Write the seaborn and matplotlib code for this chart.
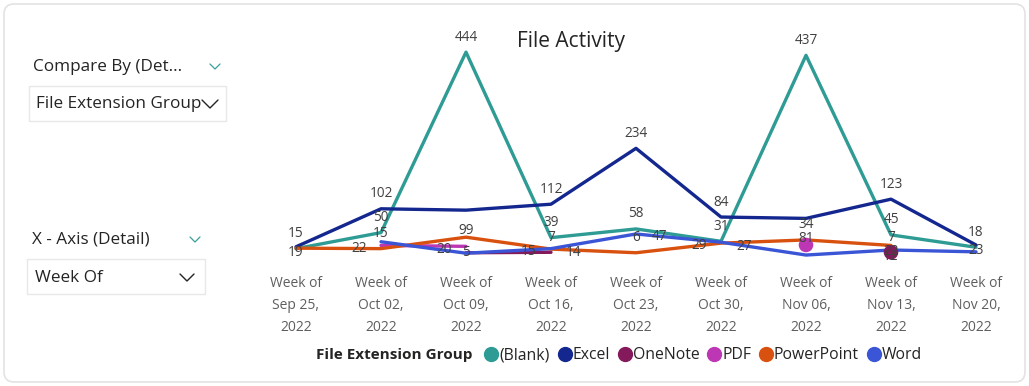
import matplotlib
matplotlib.use('Agg')

import matplotlib.pyplot as plt
import numpy as np
import pandas as pd
import seaborn as sns
from matplotlib.patches import FancyBboxPatch, Rectangle

sns.set_style("white")
plt.rcParams['font.family'] = ['Open Sans', 'DejaVu Sans']

# data

weeks = ["Week of\nSep 25,\n2022", "Week of\nOct 02,\n2022", "Week of\nOct 09,\n2022",
         "Week of\nOct 16,\n2022", "Week of\nOct 23,\n2022", "Week of\nOct 30,\n2022",
         "Week of\nNov 06,\n2022", "Week of\nNov 13,\n2022", "Week of\nNov 20,\n2022"]

groups = ["(Blank)", "Excel", "OneNote", "PDF", "PowerPoint", "Word"]

blank = [15, 50, 444, 39, 58, 31, 437, 45, 18]
excel = [19, 102, 99, 112, 234, 84, 81, 123, 23]
onenote = [np.nan, np.nan, 6, 7, np.nan, np.nan, np.nan, 7, np.nan]
pdf = [np.nan, 22, 20, np.nan, np.nan, np.nan, 23, np.nan, np.nan]
powerpoint = [16, 15, 40, 14, 6, 27, 34, 22, np.nan]
word = [np.nan, 30, 5, 15, 47, 29, 1, 12, 8]

series = dict(zip(groups, [blank, excel, onenote, pdf, powerpoint, word]))

colors = ["#2E9C94", "#13278F", "#841A5C", "#BD37B5", "#D9510F", "#3A55D6"]
palette = dict(zip(groups, colors))

# which points carry a data label, and where the label sits
labels = [
    ("(Blank)", 0, "above"), ("Excel", 0, "under"),
    ("Excel", 1, "above"), ("(Blank)", 1, "above"), ("PowerPoint", 1, "above"), ("PDF", 1, "left"),
    ("(Blank)", 2, "above"), ("Excel", 2, "below"), ("PDF", 2, "left"), ("Word", 2, "on"),
    ("Excel", 3, "above"), ("(Blank)", 3, "above"), ("OneNote", 3, "above"),
    ("Word", 3, "left"), ("PowerPoint", 3, "right"),
    ("Excel", 4, "above"), ("(Blank)", 4, "above"), ("PowerPoint", 4, "above"), ("Word", 4, "right"),
    ("Excel", 5, "above"), ("(Blank)", 5, "above"), ("Word", 5, "left"), ("PowerPoint", 5, "right"),
    ("(Blank)", 6, "above"), ("PowerPoint", 6, "above"), ("Excel", 6, "below"),
    ("Excel", 7, "above"), ("(Blank)", 7, "above"), ("OneNote", 7, "above"),
    ("PowerPoint", 7, "under"), ("Word", 7, "under"),
    ("(Blank)", 8, "above"), ("Excel", 8, "under"),
]
offsets = {"above": (0, 15), "below": (0, -20), "left": (-22, -3), "right": (23, -3),
           "under": (0, -6), "on": (0, 1)}

# long table, one segment id per unbroken run of values
rows = []
for g in groups:
    seg = 0
    prev = False
    for i, v in enumerate(series[g]):
        if np.isnan(v):
            prev = False
            continue
        if not prev:
            seg += 1
        prev = True
        rows.append({"week": i, "count": v, "group": g, "seg": f"{g}-{seg}"})
df = pd.DataFrame(rows)
seg_size = df.groupby("seg")["seg"].transform("size")
single = df[seg_size == 1]

# figure

W, H = 1029, 386
fig = plt.figure(figsize=(W / 100, H / 100), dpi=100)
fig.patch.set_facecolor("white")

# background overlay in pixel units for the card and slicers
bg = fig.add_axes([0, 0, 1, 1])
bg.set_xlim(0, W)
bg.set_ylim(H, 0)
bg.axis("off")
bg.add_patch(FancyBboxPatch((4, 4), W - 8, H - 8, boxstyle="round,pad=0,rounding_size=10",
                            fc="white", ec="#E3E3E3", lw=1.2))

txt = "#252423"
bg.text(33, 67, "Compare By (Det...", fontsize=12.3, color=txt, va="center", ha="left")
bg.plot([210, 215, 220], [64, 69, 64], color="#3A9E9A", lw=0.9)
bg.add_patch(Rectangle((29, 86), 197, 35, fc="white", ec="#E8E8E8", lw=1))
bg.text(36, 104, "File Extension Group", fontsize=12.3, color=txt, va="center", ha="left")
bg.plot([202, 210, 218], [100, 108, 100], color=txt, lw=1)

bg.text(32, 240, "X - Axis (Detail)", fontsize=12.3, color=txt, va="center", ha="left")
bg.plot([190, 195, 200], [237, 242, 237], color="#3A9E9A", lw=0.9)
bg.add_patch(Rectangle((27, 259), 178, 35, fc="white", ec="#E8E8E8", lw=1))
bg.text(35, 278, "Week Of", fontsize=12.3, color=txt, va="center", ha="left")
bg.plot([180, 187, 194], [274, 281, 274], color=txt, lw=1)

bg.text(571, 41, "File Activity", fontsize=15, color=txt, va="center", ha="center")

# chart area
left, right, top, bottom = 253.5, 1018.5, 20, 255.5
ax = fig.add_axes([left / W, 1 - bottom / H, (right - left) / W, (bottom - top) / H])
ax.patch.set_alpha(0)

sns.lineplot(data=df, x="week", y="count", hue="group", units="seg", estimator=None,
             palette=palette, hue_order=groups, linewidth=2.4, legend=False, ax=ax,
             clip_on=False)
sns.scatterplot(data=single, x="week", y="count", hue="group", palette=palette,
                hue_order=groups, s=110, linewidth=0, legend=False, ax=ax, clip_on=False,
                zorder=5)

ax.set_xlim(-0.5, len(weeks) - 0.5)
ax.set_ylim(0, (bottom - top) / 0.458)
ax.set_xticks(range(len(weeks)))
ax.set_xticklabels(weeks, fontsize=10, color="#605E5C", linespacing=1.6)
ax.tick_params(axis="x", length=0, pad=15)
ax.set_yticks([])
ax.set_xlabel("")
ax.set_ylabel("")
sns.despine(ax=ax, left=True, bottom=True)

for g, i, pos in labels:
    v = series[g][i]
    dx, dy = offsets[pos]
    ax.annotate(f"{v:.0f}", (i, v), xytext=(dx * 0.72, dy * 0.72), textcoords="offset points",
                ha="center", va="center", fontsize=9.8, color="#404040",
                annotation_clip=False, zorder=6)

# legend
bg.text(316, 355, "File Extension Group", fontsize=11, fontweight="bold", color=txt,
        va="center", ha="left")
handles = [plt.Line2D([], [], marker="o", ls="", color=palette[g], markersize=10) for g in groups]
fig.legend(handles, groups, loc="center left", bbox_to_anchor=(482 / W, 1 - 355 / H),
           ncol=6, frameon=False, handletextpad=-0.1, columnspacing=0.35,
           handlelength=1.2, fontsize=11.3, labelcolor=txt, borderaxespad=0, borderpad=0)

plt.savefig("out.png", dpi=100, facecolor="white")
